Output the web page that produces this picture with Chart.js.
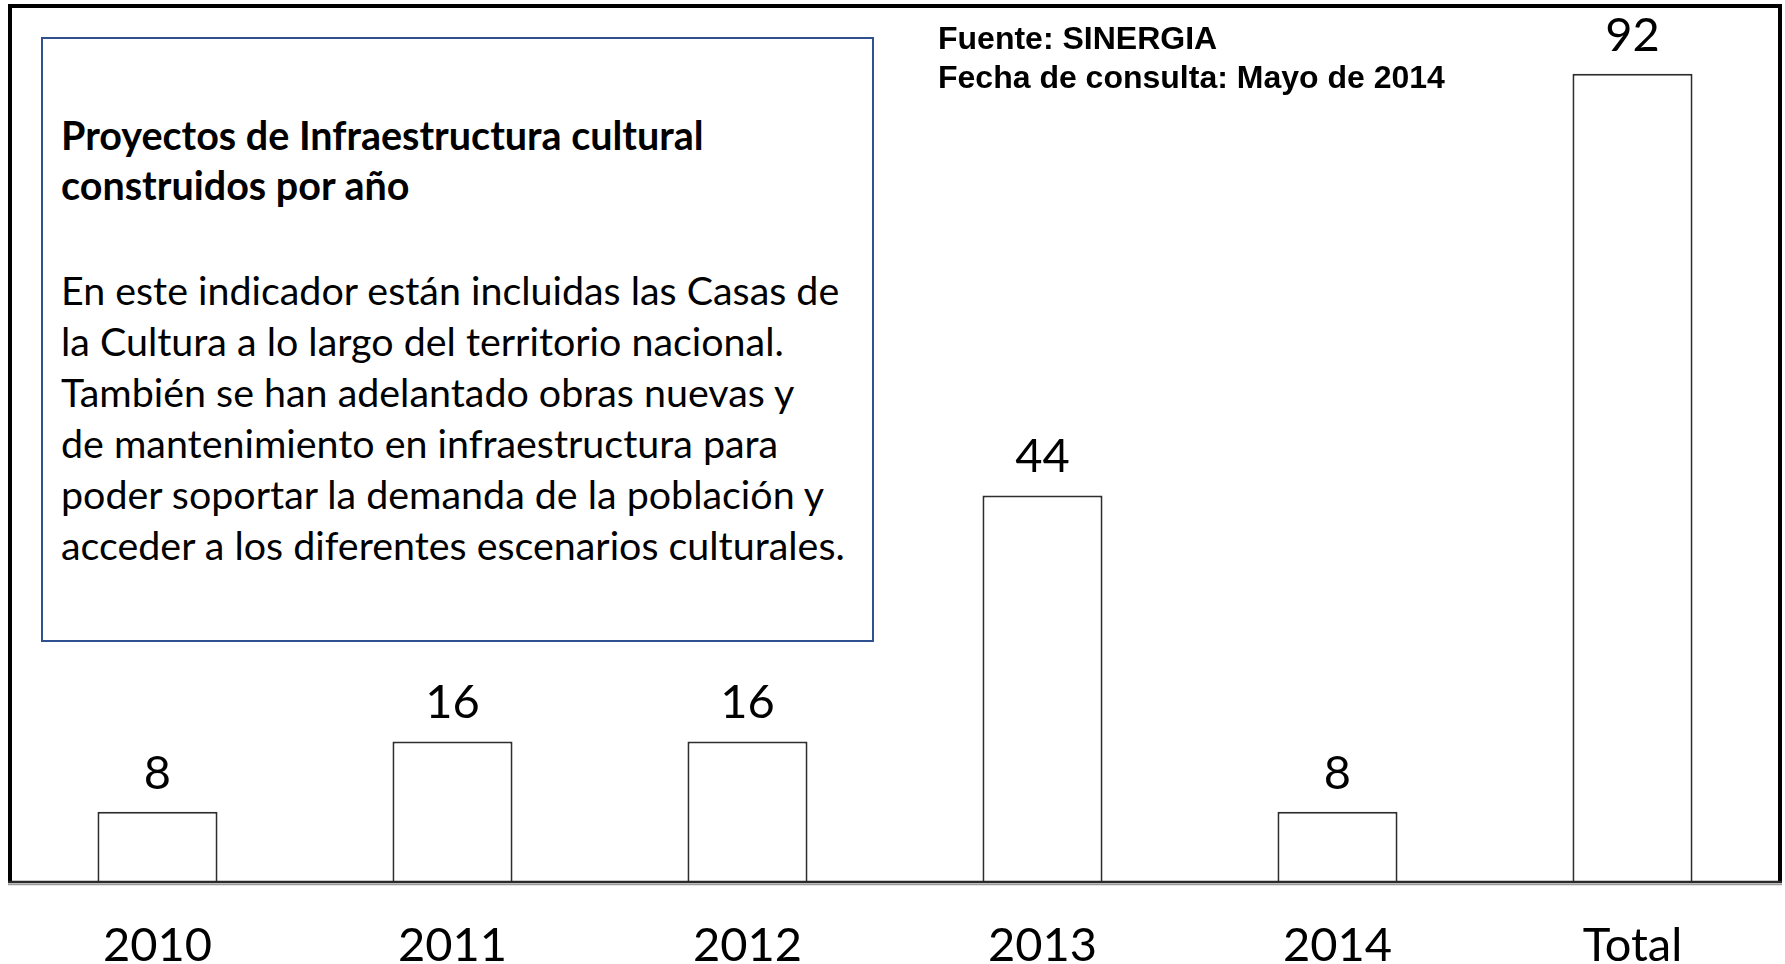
<!DOCTYPE html>
<html>
<head>
<meta charset="utf-8">
<script src="https://cdn.jsdelivr.net/npm/chart.js@4.4.1/dist/chart.umd.min.js"></script>
<style>
  html, body { margin:0; padding:0; background:#fff; }
  #wrap { position:relative; width:1785px; height:964px; }
  canvas { position:absolute; left:0; top:0; }
  #box {
    position:absolute; left:41px; top:37px; width:829px; height:601px;
    border:2px solid #2f5190; background:#fff; box-sizing:content-box;
    font-family: Lato, "Open Sans", sans-serif; color:#000;
  }
  #box .title { position:absolute; left:18px; top:71px; font-weight:bold; font-size:39.5px; line-height:50px; white-space:nowrap; }
  #box .body { position:absolute; left:18px; top:225px; font-size:39.4px; line-height:51px; white-space:nowrap; }
  #src { position:absolute; left:938px; top:19px; font-family:"Liberation Sans", Arial, sans-serif; font-weight:bold; font-size:32px; line-height:39px; color:#000; white-space:nowrap; }
</style>
</head>
<body>
<div id="wrap">
  <canvas id="c" width="1785" height="964"></canvas>
  <div id="box">
    <div class="title">Proyectos de Infraestructura cultural<br>construidos por año</div>
    <div class="body">En este indicador están incluidas las Casas de<br>la Cultura a lo largo del territorio nacional.<br>También se han adelantado obras nuevas y<br>de mantenimiento en infraestructura para<br>poder soportar la demanda de la población y<br>acceder a los diferentes escenarios culturales.</div>
  </div>
  <div id="src">Fuente: SINERGIA<br>Fecha de consulta: Mayo de 2014</div>
</div>
<script>
const categories = ["2010", "2011", "2012", "2013", "2014", "Total"];
const values = [8, 16, 16, 44, 8, 92];
const yMin = 0;
const yMax = 99.7;

const valueLabels = {
  id: 'valueLabels',
  afterDatasetsDraw(chart) {
    const ctx = chart.ctx;
    const meta = chart.getDatasetMeta(0);
    ctx.save();
    ctx.font = '47px Lato, "Open Sans", sans-serif';
    ctx.fillStyle = '#000';
    ctx.textAlign = 'center';
    ctx.textBaseline = 'alphabetic';
    meta.data.forEach((el, i) => {
      ctx.fillText(String(values[i]), el.x, el.y - 23);
    });
    ctx.restore();
  }
};

const frame = {
  id: 'frame',
  afterDatasetsDraw(chart) {
    const a = chart.chartArea;
    const ctx = chart.ctx;
    ctx.save();
    ctx.strokeStyle = '#000';
    ctx.lineWidth = 4;
    ctx.beginPath();
    ctx.moveTo(a.left, a.bottom);
    ctx.lineTo(a.left, a.top);
    ctx.lineTo(a.right, a.top);
    ctx.lineTo(a.right, a.bottom);
    ctx.stroke();
    ctx.strokeStyle = '#2b2b2b';
    ctx.lineWidth = 2.5;
    ctx.beginPath();
    ctx.moveTo(a.left - 2, a.bottom);
    ctx.lineTo(a.right + 2, a.bottom);
    ctx.stroke();
    ctx.strokeStyle = '#9a9a9a';
    ctx.lineWidth = 1.5;
    ctx.beginPath();
    ctx.moveTo(a.left - 2, a.bottom + 2.5);
    ctx.lineTo(a.right + 2, a.bottom + 2.5);
    ctx.stroke();
    ctx.restore();
  }
};

new Chart(document.getElementById('c'), {
  type: 'bar',
  data: {
    labels: categories,
    datasets: [{
      data: values,
      backgroundColor: '#ffffff',
      borderColor: '#2e2e2e',
      borderWidth: 2,
      borderSkipped: 'bottom',
      categoryPercentage: 1.0,
      barPercentage: 0.407
    }]
  },
  options: {
    responsive: false,
    animation: false,
    events: [],
    layout: { padding: { left: 10, right: 5, top: 6, bottom: 0 } },
    plugins: { legend: { display: false }, tooltip: { enabled: false } },
    scales: {
      x: {
        grid: { display: false, drawTicks: false },
        border: { display: false },
        ticks: {
          color: '#000',
          padding: 36,
          font: { family: 'Lato, "Open Sans", sans-serif', size: 47 },
          maxRotation: 0
        },
        afterFit(scale) { scale.height = 82; }
      },
      y: {
        display: false,
        min: yMin,
        max: yMax
      }
    }
  },
  plugins: [valueLabels, frame]
});
</script>
</body>
</html>
